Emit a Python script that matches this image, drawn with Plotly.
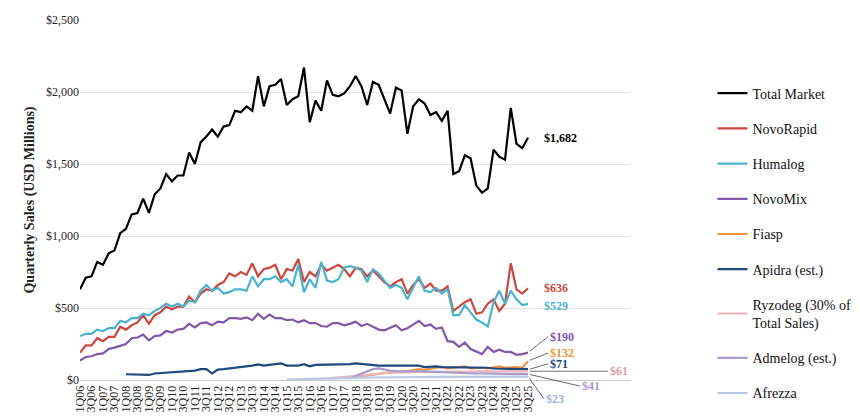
import plotly.graph_objects as go

quarters = [f"{q}Q{y:02d}" for y in range(6, 26) for q in range(1, 5)][:79]

total = [630,710,720,820, 800,880,900,1020, 1050,1150,1160,1260, 1160,1290,1330,1430,
         1380,1420,1420,1580, 1500,1650,1690,1740, 1690,1760,1770,1870, 1860,1900,1870,2110,
         1900,2040,2050,2090, 1910,1950,1970,2170, 1790,1940,1870,2080, 1980,1970,1990,2040,
         2110,2040,1910,2070, 2050,1950,1850,2030, 2010,1710,1900,1950, 1920,1840,1860,1800,
         1870,1430,1450,1560, 1540,1350,1300,1330, 1600,1550,1530,1890, 1640,1610,1682]
novorapid = [190,240,240,290, 270,300,300,370, 350,380,400,450, 390,450,470,510, 490,510,510,580,
             540,600,630,620, 660,680,740,720, 750,730,810,720, 770,780,800,700, 770,760,840,680,
             750,720,800,760, 780,800,770,720, 780,770,720,760, 720,680,650,680, 700,600,660,700,
             640,670,620,620, 650,480,510,540, 560,460,470,530, 560,480,530,810, 630,600,636]
humalog = [305,320,320,350, 340,360,360,410, 400,430,430,460, 450,480,500,530, 510,530,510,550,
           540,620,660,620, 640,600,610,630, 630,620,720,650, 700,700,720,680, 700,650,800,610,
           700,640,820,690, 680,700,780,790, 780,760,680,770, 740,690,640,660, 640,560,640,720,
           620,610,640,600, 630,450,450,520, 470,420,400,370, 540,620,530,620, 560,520,529]
novomix = [135,160,165,180, 185,215,225,235, 250,290,295,315, 275,305,310,340, 330,350,355,390,
           365,395,400,380, 405,400,430,430, 425,435,415,460, 425,455,430,430, 415,420,400,415,
           395,395,375,370, 395,395,380,390, 405,375,390,370, 350,345,365,380, 345,360,385,410,
           375,385,355,365, 270,265,230,260, 215,195,180,230, 195,210,195,195, 175,180,190]
n = None
fiasp = [n]*48 + [20,25,30,35, 40,45,50,60, 55,60,65,75, 70,80,85,90, 80,85,90,95, 80,85,85,80,
         90,95,85,90, 90,85,130,95, 100,110,132]
apidra = [n]*8 + [40,40,38,35, 35,45,48,52, 55,57,60,65, 65,75,75,45, 72,75,80,82,
          90,95,100,108, 100,105,110,115, 100,100,100,110, 95,105,105,105, 105,105,110,110,
          115,110,105,100, 100,100,100,105, 100,100,100,100, 90,95,95,90, 90,85,85,90,
          85,85,85,85, 80,80,80,80, 75,75,75,72, 72,72,71]
ryzodeg = [n]*41 + [5,8,10, 12,15,18,22, 25,30,35,40, 45,48,50,52, 50,52,55,55, 55,58,55,58,
           58,60,60,58, 60,60,62,60, 60,60,62,60, 62,60,61]
admelog = [n]*47 + [10, 30,45,60,75, 80,70,65,62, 60,60,62,60, 58,58,55,52, 50,50,48,48,
           46,45,45,44, 44,43,42,42, 42,41,41,41, 40,41,41]
afrezza = [n]*36 + [3,5,5,6, 8,10,10,10, 12,12,14,15, 15,16,16,18, 18,18,20,20, 20,20,20,20,
           21,22,22,22, 22,22,22,23, 23,23,23,23, 22,23,23,23, 23,23,23]

series = [
    ("Total Market", total, "#000000"),
    ("NovoRapid", novorapid, "#C9483F"),
    ("Humalog", humalog, "#4BB3CF"),
    ("NovoMix", novomix, "#8258A8"),
    ("Fiasp", fiasp, "#F5923E"),
    ("Apidra (est.)", apidra, "#1F497D"),
    ("Ryzodeg (30% of<br>Total Sales)", ryzodeg, "#E9B5BE"),
    ("Admelog (est.)", admelog, "#A99BC9"),
    ("Afrezza", afrezza, "#B9C8E4"),
]
font = "Liberation Serif"
fig = go.Figure()
for i, (name, vals, col) in enumerate(series):
    fig.add_trace(go.Scatter(x=quarters[:len(vals)], y=vals, name=name, mode="lines",
                             line=dict(color=col, width=2.2), legendgroup=str(i)))

last = quarters[78]
labels = [("$1,682", 1682, "#000000", 14, 0, False), ("$636", 636, "#C9483F", 14, 0, False),
          ("$529", 529, "#4BB3CF", 14, 2, False), ("$190", 190, "#8258A8", 20, -16, True),
          ("$132", 132, "#F5923E", 20, -8, True), ("$71", 71, "#1F497D", 20, -6, True),
          ("$61", 61, "#E0A0A8", 80, 0, True), ("$41", 41, "#A99BC9", 52, 12, True),
          ("$23", 23, "#9FB5DD", 16, 22, True)]
for t, v, c, ax, ay, arr in labels:
    fig.add_annotation(x=last, y=v, text=f"<b>{t}</b>", showarrow=arr, arrowhead=0,
                       arrowwidth=0.8, arrowcolor="#444", ax=ax, ay=ay, xanchor="left",
                       xshift=0 if arr else ax, yshift=0 if arr else -ay,
                       font=dict(color=c, size=12, family=font), standoff=2)

fig.update_layout(
    width=860, height=416, margin=dict(l=72, r=212, t=12, b=44),
    plot_bgcolor="white", paper_bgcolor="white",
    font=dict(family=font, size=12, color="#222"),
    legend=dict(x=1.15, y=0.84, yanchor="top", tracegroupgap=14,
                font=dict(size=14, family=font, color="#111"), bgcolor="rgba(0,0,0,0)"),
    xaxis=dict(tickmode="array", tickvals=quarters[::2], ticktext=quarters[::2],
               tickangle=-90, showgrid=False, showline=True, linecolor="#ccc",
               tickfont=dict(size=12), automargin=False),
    yaxis=dict(range=[0, 2500], dtick=500, tickprefix="$", tickformat=",",
               gridcolor="#e4e4e4", zeroline=False, automargin=False,
               title=dict(text="<b>Quarterly Sales (USD Millions)</b>", font=dict(size=14), standoff=8),
               tickfont=dict(size=12)),
)
fig.write_html("out.html")
